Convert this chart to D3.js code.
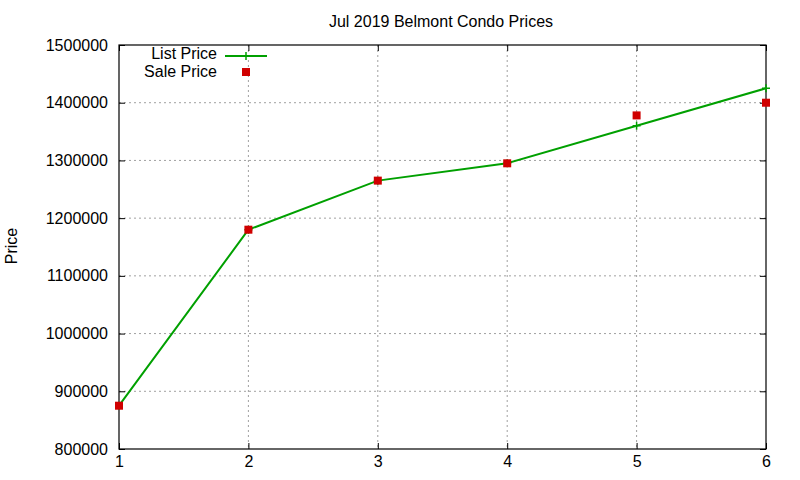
<!DOCTYPE html>
<html>
<head>
<meta charset="utf-8">
<script src="https://cdn.jsdelivr.net/npm/d3@7"></script>
<style>
  body { margin: 0; background: #fff; }
  svg { font-family: "Liberation Sans", Arial, sans-serif; }
</style>
</head>
<body>
<svg id="chart" width="800" height="480"></svg>
<script>
const months = [1, 2, 3, 4, 5, 6];
const listPrice = [875000, 1180000, 1265000, 1295000, 1360000, 1425000];
const salePrice = [875000, 1180000, 1265000, 1295000, 1378000, 1400000];
const yTicks = [800000, 900000, 1000000, 1100000, 1200000, 1300000, 1400000, 1500000];

const margin = {top: 45, right: 34, bottom: 31, left: 119},
    width = 800 - margin.left - margin.right,
    height = 480 - margin.top - margin.bottom;

const svg = d3.select("#chart");
const g = svg.append("g").attr("transform", `translate(${margin.left},${margin.top})`);

const x = d3.scaleLinear().domain([1, 6]).range([0, width]);
const y = d3.scaleLinear().domain([800000, 1500000]).range([height, 0]);

// grid
g.append("g").selectAll("line")
    .data(months.slice(1, -1))
    .enter().append("line")
    .attr("x1", d => x(d)).attr("x2", d => x(d))
    .attr("y1", 0).attr("y2", height)
    .attr("stroke", "#a0a0a0").attr("stroke-dasharray", "2,3");
g.append("g").selectAll("line")
    .data(yTicks.slice(1, -1))
    .enter().append("line")
    .attr("x1", 0).attr("x2", width)
    .attr("y1", d => y(d)).attr("y2", d => y(d))
    .attr("stroke", "#a0a0a0").attr("stroke-dasharray", "2,3");

// axes (gnuplot style: inward ticks, mirrored)
const axisStyle = sel => {
    sel.select(".domain").remove();
    sel.selectAll("line").attr("stroke", "#000");
    sel.selectAll("text").attr("font-size", 16).attr("fill", "#000");
};
g.append("g").attr("transform", `translate(0,${height})`)
    .call(d3.axisBottom(x).tickValues(months).tickSize(-6).tickPadding(7).tickFormat(d3.format("d")))
    .call(axisStyle);
g.append("g")
    .call(d3.axisTop(x).tickValues(months).tickSize(-6).tickFormat(""))
    .call(axisStyle);
g.append("g")
    .call(d3.axisLeft(y).tickValues(yTicks).tickSize(-6).tickPadding(11).tickFormat(d3.format("d")))
    .call(axisStyle);
g.append("g").attr("transform", `translate(${width},0)`)
    .call(d3.axisRight(y).tickValues(yTicks).tickSize(-6).tickFormat(""))
    .call(axisStyle);

g.append("rect")
    .attr("width", width).attr("height", height)
    .attr("fill", "none").attr("stroke", "#000").attr("stroke-width", 1.2);

// list price line
const line = d3.line().x((d, i) => x(months[i])).y(d => y(d));
g.append("path")
    .datum(listPrice)
    .attr("d", line)
    .attr("fill", "none")
    .attr("stroke", "#00a000")
    .attr("stroke-width", 2);

g.selectAll(".lp")
    .data(listPrice)
    .enter().append("path")
    .attr("transform", (d, i) => `translate(${x(months[i])},${y(d)})`)
    .attr("d", "M-4,0H4M0,-4V4")
    .attr("stroke", "#00a000").attr("stroke-width", 1.5);

// sale price points
g.selectAll(".sp")
    .data(salePrice)
    .enter().append("rect")
    .attr("x", (d, i) => x(months[i]) - 4)
    .attr("y", d => y(d) - 4)
    .attr("width", 8).attr("height", 8)
    .attr("fill", "#d00000");

// legend
const legend = svg.append("g").attr("font-size", 16);
legend.append("text").attr("x", 217).attr("y", 59).attr("text-anchor", "end").text("List Price");
legend.append("line").attr("x1", 225).attr("x2", 267).attr("y1", 56).attr("y2", 56)
    .attr("stroke", "#00a000").attr("stroke-width", 2);
legend.append("path").attr("transform", "translate(246,56)").attr("d", "M0,-4V4")
    .attr("stroke", "#00a000").attr("stroke-width", 1.5);
legend.append("text").attr("x", 217).attr("y", 77).attr("text-anchor", "end").text("Sale Price");
legend.append("rect").attr("x", 242).attr("y", 68).attr("width", 8).attr("height", 8).attr("fill", "#d00000");

// title and y label
svg.append("text")
    .attr("x", 441).attr("y", 27)
    .attr("text-anchor", "middle").attr("font-size", 16)
    .text("Jul 2019 Belmont Condo Prices");
svg.append("text")
    .attr("transform", "translate(17,246) rotate(-90)")
    .attr("text-anchor", "middle").attr("font-size", 16)
    .text("Price");
</script>
</body>
</html>
